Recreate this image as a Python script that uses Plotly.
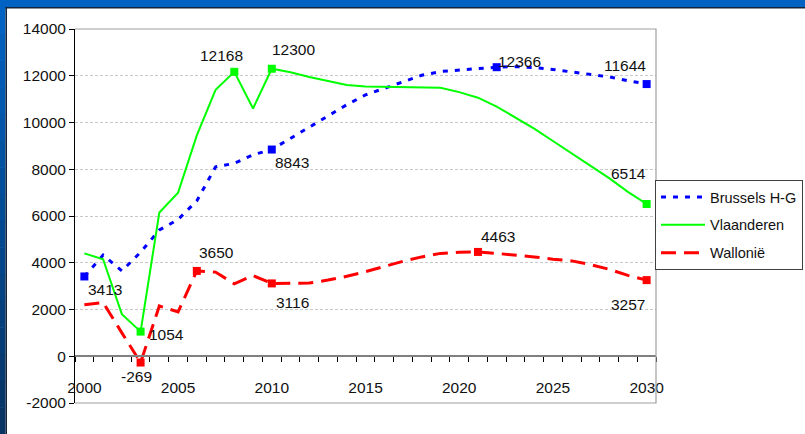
import plotly.graph_objects as go

years = list(range(2000, 2031))
brussels = [3413, 4330, 3650, 4450, 5400, 5850, 6650, 8100, 8250, 8620, 8843,
            9320, 9820, 10300, 10760, 11180, 11460, 11750, 12020, 12180, 12250,
            12300, 12366, 12390, 12350, 12270, 12160, 12060, 11950, 11790, 11644]
vlaanderen = [4400, 4150, 1800, 1054, 6150, 7000, 9450, 11400, 12168, 10600, 12300,
              12150, 11950, 11770, 11600, 11540, 11520, 11520, 11510, 11490, 11300,
              11060, 10680, 10210, 9740, 9210, 8670, 8140, 7620, 7030, 6514]
wallonie = [2200, 2300, 1000, -269, 2150, 1900, 3650, 3600, 3100, 3450, 3116,
            3130, 3130, 3260, 3420, 3620, 3850, 4060, 4250, 4400, 4450,
            4463, 4400, 4340, 4250, 4150, 4080, 3920, 3720, 3460, 3257]
series_names = ["Brussels H-G", "Vlaanderen", "Wallonië"]
labeled_years = {
    "Brussels H-G": [2000, 2010, 2022, 2030],
    "Vlaanderen": [2003, 2008, 2010, 2030],
    "Wallonië": [2003, 2006, 2010, 2021, 2030],
}
y_ticks = list(range(-2000, 14001, 2000))
x_ticks = list(range(2000, 2031, 5))

FONT = "Liberation Sans, Arial, sans-serif"
FS = 15.5
W, H = 805, 434
ML, MR, MT, MB = 75, 149, 29, 31
PW, PH = W - ML - MR, H - MT - MB


def px_x(p):
    return (p - ML) / PW


def px_y(p):
    return (H - MB - p) / PH


styles = {
    "Brussels H-G": dict(color="#0000FF", width=3, dash="5px,7px"),
    "Vlaanderen": dict(color="#00FF00", width=2, dash="solid"),
    "Wallonië": dict(color="#FF0000", width=3, dash="15px,8px"),
}
label_shift = {
    ("Brussels H-G", 2000): (21, -13), ("Brussels H-G", 2010): (20, -13),
    ("Brussels H-G", 2022): (23, 6), ("Brussels H-G", 2030): (-22, 19),
    ("Vlaanderen", 2003): (26, -3), ("Vlaanderen", 2008): (-13, 16),
    ("Vlaanderen", 2010): (22, 19), ("Vlaanderen", 2030): (-18, 30),
    ("Wallonië", 2003): (-4, -14), ("Wallonië", 2006): (20, 18),
    ("Wallonië", 2010): (21, -19), ("Wallonië", 2021): (20, 15),
    ("Wallonië", 2030): (-19, -24),
}

data = {"Brussels H-G": brussels, "Vlaanderen": vlaanderen, "Wallonië": wallonie}

fig = go.Figure()
annotations = []
for name in series_names:
    vals = data[name]
    st = styles[name]
    fig.add_trace(go.Scatter(x=years, y=vals, mode="lines", name=name, legendgroup=name,
                             line=dict(color=st["color"], width=st["width"], dash=st["dash"])))
for name in series_names:
    vals = data[name]
    st = styles[name]
    lx = labeled_years[name]
    ly = [vals[years.index(yr)] for yr in lx]
    fig.add_trace(go.Scatter(x=lx, y=ly, mode="markers", showlegend=False,
                             marker=dict(symbol="square", size=8, color=st["color"])))
    for xx, yy in zip(lx, ly):
        dx, dy = label_shift[(name, xx)]
        annotations.append(dict(x=xx, y=yy, xref="x", yref="y", text=str(yy),
                                showarrow=False, xshift=dx, yshift=dy,
                                font=dict(family=FONT, size=FS, color="#111")))

shapes = []
shapes.append(dict(type="path", xref="paper", yref="paper",
                   path="M 0,1 L 1,1 L 1,0 L 0,0", line=dict(color="#A0A0A0", width=1.2)))
shapes.append(dict(type="rect", xref="paper", yref="paper", x0=px_x(0), x1=px_x(W),
                   y0=px_y(7), y1=px_y(0), fillcolor="#0062C2", line=dict(width=0), layer="above"))
shapes.append(dict(type="rect", xref="paper", yref="paper", x0=px_x(5), x1=px_x(W),
                   y0=px_y(8.5), y1=px_y(7), fillcolor="#13243A", line=dict(width=0), layer="above"))
n = 16
c_top = (0, 98, 194)
c_bot = (8, 52, 100)
for i in range(n):
    t = i / (n - 1)
    c = tuple(int(c_top[k] + (c_bot[k] - c_top[k]) * t) for k in range(3))
    y0p = 7 + (H - 7) * i / n
    y1p = 7 + (H - 7) * (i + 1) / n
    shapes.append(dict(type="rect", xref="paper", yref="paper", x0=px_x(0), x1=px_x(5.5),
                       y0=px_y(y1p + 0.5), y1=px_y(y0p), fillcolor="rgb(%d,%d,%d)" % c,
                       line=dict(width=0), layer="above"))
shapes.append(dict(type="rect", xref="paper", yref="paper", x0=px_x(5.5), x1=px_x(7),
                   y0=px_y(H), y1=px_y(7), fillcolor="#13243A", line=dict(width=0), layer="above"))

fig.update_layout(
    width=W, height=H,
    margin=dict(l=ML, r=MR, t=MT, b=MB, pad=0, autoexpand=False),
    paper_bgcolor="white", plot_bgcolor="white",
    font=dict(family=FONT, size=FS, color="#111"),
    showlegend=True,
    legend=dict(xref="container", yref="container", x=655 / W, y=1 - 180 / H,
                xanchor="left", yanchor="top",
                bgcolor="white", bordercolor="#404040", borderwidth=1,
                font=dict(family=FONT, size=14.5, color="#111"),
                itemwidth=44, tracegroupgap=6),
    xaxis=dict(range=[1999.5, 2030.5], anchor="free", position=2000 / 16000,
               showline=True, linecolor="#808080", linewidth=2, showgrid=False,
               zeroline=False, tickmode="array", tickvals=x_ticks,
               ticktext=[str(v) for v in x_ticks], automargin=False,
               ticks="outside", ticklen=17, tickcolor="rgba(0,0,0,0)",
               tickfont=dict(family=FONT, size=FS, color="#111"),
               minor=dict(tickmode="array", tickvals=[y + 0.5 for y in range(1999, 2031)],
                          ticks="outside", ticklen=5, tickcolor="#000", tickwidth=1, showgrid=False)),
    yaxis=dict(range=[-2000, 14000], tickmode="array", tickvals=y_ticks,
               ticktext=[str(v) for v in y_ticks], automargin=False,
               showline=True, linecolor="#000", linewidth=1, ticks="outside", ticklen=5,
               tickcolor="#000", showgrid=True, gridcolor="#C8C8C8", griddash="3px,2px",
               zeroline=False, tickfont=dict(family=FONT, size=FS, color="#111")),
    annotations=annotations, shapes=shapes,
)

fig.write_html("out.html", config={"displayModeBar": False},
               post_script="document.body.style.margin='0px';document.body.style.overflow='hidden';")
